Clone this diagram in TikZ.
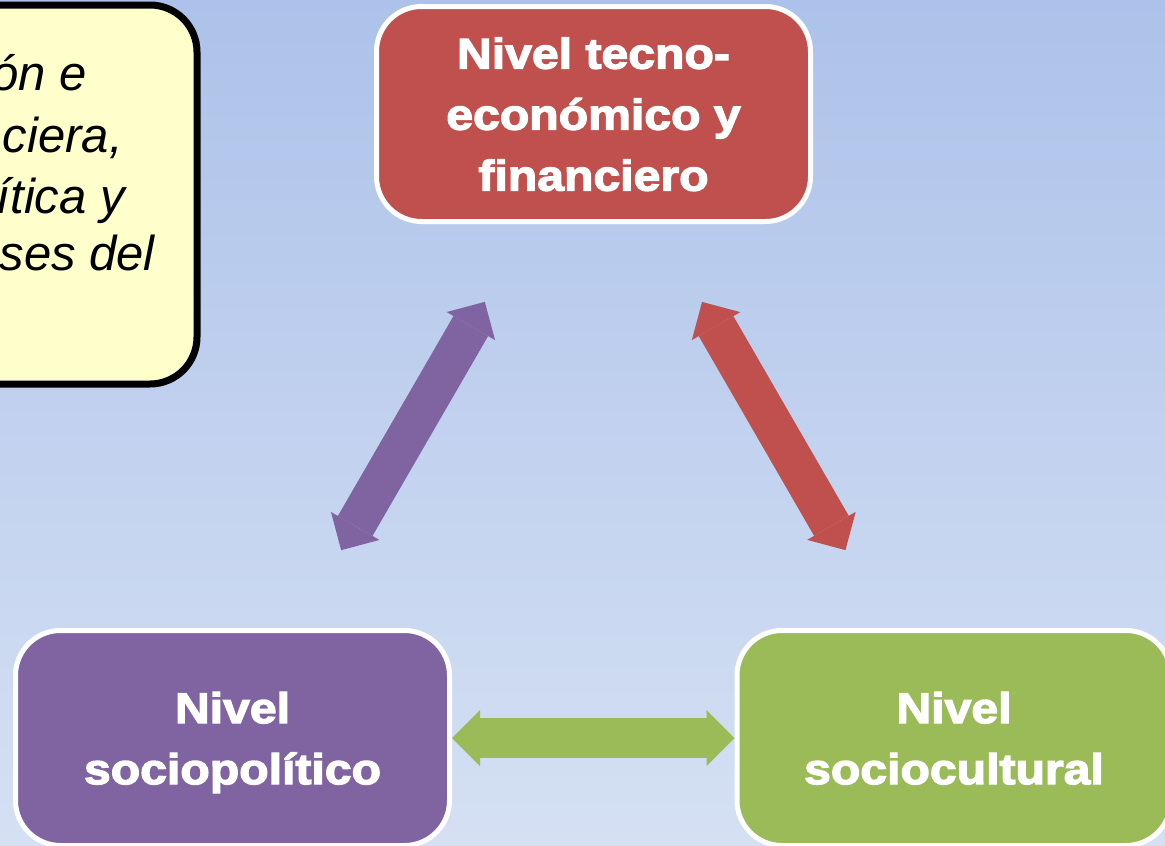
\documentclass[tikz,border=0pt]{standalone}
\usepackage{fontspec}
\setmainfont{Liberation Sans}
\newfontfamily\levelfont[FakeStretch=1.12,FakeBold=3]{Liberation Sans}
\usetikzlibrary{arrows.meta}
\definecolor{bgtop}{HTML}{ADC2EA}
\definecolor{bgbot}{HTML}{D5E0F3}
\definecolor{tred}{HTML}{C0504D}
\definecolor{tpurple}{HTML}{8064A2}
\definecolor{tgreen}{HTML}{9BBB59}
\definecolor{noteyellow}{HTML}{FFFFCC}

\begin{document}
\begin{tikzpicture}[x=1pt,y=-1pt,
  >={Triangle[length=28pt,width=56pt,line width=0pt]},
  level/.style={rectangle,rounded corners=45pt,draw=white,line width=5pt,
    minimum width=434pt,minimum height=215pt,inner sep=0pt,text=white,
    align=center,text depth=0pt,font=\levelfont\bfseries\fontsize{43}{61}\selectfont},
  notetext/.style={anchor=base east,inner sep=0pt,font=\itshape\fontsize{49}{60}\selectfont},
  link/.style={<->,line width=40pt}]
\useasboundingbox (0,0) rectangle (1165,846);
\shade[top color=bgtop,bottom color=bgbot] (0,0) rectangle (1165,846);
% note box, cut at the left edge
\node[draw=black,line width=7pt,fill=noteyellow,rounded corners=47pt,
  minimum width=257pt,minimum height=379pt] (note) at (68.5,194.5) {};
\node[notetext] (n1) at (87,90) {ón e};
\node[notetext] (n2) at (123,152) {ciera,};
\node[notetext] (n3) at (125,213) {ítica y};
\node[notetext] (n4) at (155,270) {ses del};
% levels
\node[level,fill=tred] (tec) at (593.5,114) {Nivel tecno-\\económico y\\financiero};
\node[level,fill=tpurple] (pol) at (232.5,738) {Nivel\\sociopolítico};
\node[level,fill=tgreen] (cul) at (954,738) {Nivel\\sociocultural};
% links
\draw[link,tpurple,shorten <=217pt,shorten >=217pt] (tec.center) -- (pol.center);
\draw[link,tred,shorten <=217pt,shorten >=217pt] (tec.center) -- (cul.center);
\draw[link,tgreen] (pol.east) -- (cul.west);
\end{tikzpicture}
\end{document}
